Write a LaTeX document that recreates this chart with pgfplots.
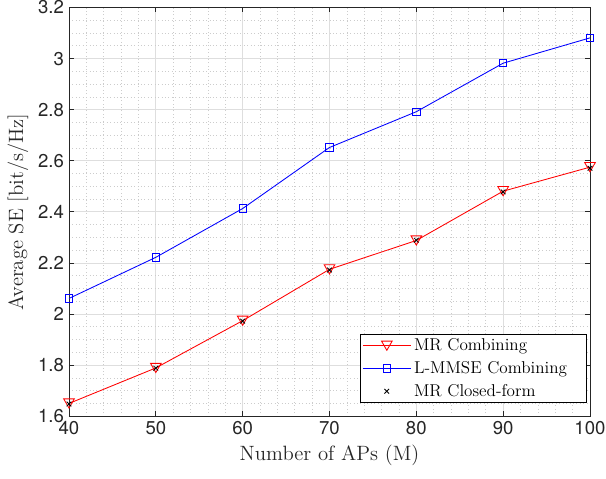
\documentclass[border=0pt]{standalone}
\usepackage{fontspec}
\usepackage{pgfplots}
\pgfplotsset{compat=1.18}
\newfontfamily\heros{TeX Gyre Heros}
\definecolor{axgray}{rgb}{0.15,0.15,0.15}
\definecolor{majgrid}{rgb}{0.87,0.87,0.87}
\definecolor{mingrid}{rgb}{0.80,0.80,0.80}
\begin{document}
\begin{tikzpicture}
\begin{axis}[
  at={(0,0)}, anchor=south west,
  scale only axis, width=364.7pt, height=286.1pt,
  xmin=40, xmax=100, ymin=1.6, ymax=3.2,
  xtick={40,50,60,70,80,90,100},
  ytick={1.6,1.8,2.0,2.2,2.4,2.6,2.8,3.0,3.2},
  minor x tick num=4, minor y tick num=3,
  grid=both,
  major grid style={majgrid, line width=0.5pt},
  minor grid style={mingrid, dotted, line width=0.5pt},
  tick align=inside,
  major tick length=3.5pt, minor tick length=0pt,
  axis line style={axgray, line width=0.5pt},
  tick style={axgray, line width=0.5pt},
  ticklabel style={font=\heros\fontsize{13}{13}\selectfont, text=axgray},
  /pgf/number format/assume math mode=true,
  xlabel={Number of APs (M)}, ylabel={Average SE [bit/s/Hz]},
  label style={font=\fontsize{14.5}{16}\selectfont, text=axgray},
  legend style={at={(0.9935,0.0325)}, anchor=south east, font=\fontsize{12}{14}\selectfont,
    fill=white, row sep=2pt, inner ysep=1pt, inner xsep=1.5pt,
    /tikz/column 2/.style={column sep=-3pt}},
  legend cell align=left,
  legend image code/.code={\draw[mark repeat=2,mark phase=2,#1] plot coordinates {(0cm,0cm) (0.59cm,0cm) (1.18cm,0cm)};},
]
\addplot[red, line width=0.6pt, mark=triangle, mark size=4.3pt, mark options={yshift=1.07pt, rotate=180, solid}] coordinates {(40,1.650)(50,1.789)(60,1.974)(70,2.175)(80,2.288)(90,2.481)(100,2.575)};
\addlegendentry{MR Combining}
\addplot[blue, line width=0.6pt, mark=square, mark size=2.6pt, mark options={solid}] coordinates {(40,2.061)(50,2.222)(60,2.413)(70,2.652)(80,2.792)(90,2.982)(100,3.081)};
\addlegendentry{L-MMSE Combining\kern10pt}
\addplot[black, only marks, line width=0.6pt, mark=x, mark size=2.3pt] coordinates {(40,1.648)(50,1.788)(60,1.972)(70,2.172)(80,2.289)(90,2.478)(100,2.571)};
\addlegendentry{MR Closed-form}
\end{axis}
\pgfresetboundingbox
\path (-48.3pt,-43.4pt) rectangle (375.9pt,291.35pt);
\end{tikzpicture}
\end{document}
